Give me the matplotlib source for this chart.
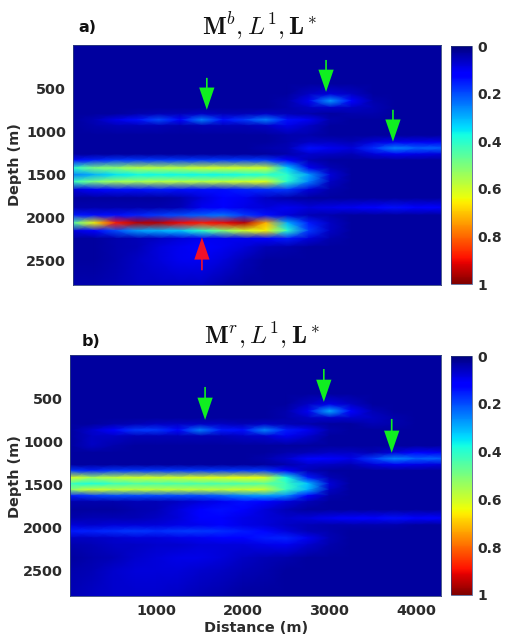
import numpy as np
import matplotlib
matplotlib.use('Agg')
import matplotlib.pyplot as plt

plt.rcParams['mathtext.fontset'] = 'cm'
plt.rcParams['font.family'] = 'DejaVu Sans'

W, H = 507, 639
inkColor = '#2b2b2b'

distance = [0, 250, 500, 750, 1000, 1250, 1500, 1750, 2000, 2250, 2500, 2750, 3000, 3250, 3500, 3750, 4000, 4290]

depthA = [0, 450, 570, 650, 730, 800, 870, 940, 1050, 1130, 1200, 1270, 1340, 1430, 1510, 1590, 1680, 1780, 1890,
          1980, 2070, 2160, 2250, 2350, 2500, 2790]

# amplitude in hundredths, one row per depth
ampA = [
    [3, 3, 3, 3, 3, 3, 3, 3, 3, 3, 3, 3, 3, 3, 3, 3, 3, 3],
    [3, 3, 3, 3, 3, 3, 3, 3, 3, 3, 3, 3, 3, 3, 3, 3, 3, 3],
    [3, 3, 3, 3, 3, 3, 3, 3, 3, 3, 3, 6, 8, 6, 3, 3, 3, 3],
    [3, 3, 3, 3, 3, 3, 3, 3, 3, 3, 4, 10, 28, 12, 4, 3, 3, 3],
    [3, 3, 3, 3, 3, 3, 3, 3, 3, 3, 4, 6, 7, 6, 5, 3, 3, 3],
    [3, 3, 3, 4, 5, 5, 6, 5, 5, 6, 5, 4, 3, 4, 4, 3, 3, 3],
    [3, 5, 9, 14, 20, 12, 25, 14, 18, 25, 14, 10, 4, 3, 3, 3, 3, 3],
    [3, 4, 5, 5, 5, 4, 5, 5, 5, 6, 9, 6, 3, 3, 3, 3, 3, 3],
    [3, 3, 3, 3, 3, 3, 3, 3, 3, 3, 4, 4, 3, 3, 3, 3, 3, 3],
    [3, 3, 3, 3, 3, 3, 3, 3, 3, 3, 4, 6, 6, 5, 8, 10, 10, 10],
    [3, 3, 3, 3, 3, 3, 3, 3, 3, 4, 5, 14, 10, 8, 17, 26, 22, 22],
    [3, 3, 3, 3, 3, 3, 3, 3, 3, 3, 4, 7, 6, 5, 8, 10, 9, 8],
    [14, 16, 18, 18, 18, 18, 18, 18, 18, 18, 12, 5, 3, 3, 3, 3, 3, 3],
    [40, 50, 52, 57, 57, 57, 60, 60, 60, 60, 33, 10, 5, 3, 3, 3, 3, 3],
    [25, 30, 35, 37, 37, 37, 37, 37, 38, 40, 40, 28, 8, 3, 3, 3, 3, 3],
    [42, 50, 55, 55, 57, 57, 57, 58, 60, 62, 40, 25, 6, 3, 3, 3, 3, 3],
    [8, 12, 14, 14, 15, 14, 14, 14, 16, 17, 18, 8, 4, 3, 3, 3, 3, 3],
    [3, 3, 3, 3, 3, 4, 8, 12, 10, 6, 4, 3, 3, 3, 3, 3, 3, 3],
    [4, 4, 4, 4, 4, 5, 10, 12, 9, 8, 10, 8, 9, 10, 12, 14, 12, 12],
    [15, 14, 14, 16, 18, 20, 22, 24, 18, 14, 8, 5, 4, 3, 3, 3, 3, 3],
    [45, 65, 88, 95, 95, 90, 88, 90, 95, 72, 30, 15, 6, 3, 3, 3, 3, 3],
    [8, 12, 20, 28, 30, 32, 40, 50, 60, 65, 40, 18, 6, 3, 3, 3, 3, 3],
    [3, 3, 4, 5, 6, 8, 10, 10, 10, 12, 15, 8, 4, 3, 3, 3, 3, 3],
    [3, 3, 4, 5, 8, 10, 12, 10, 8, 5, 4, 3, 3, 3, 3, 3, 3, 3],
    [3, 3, 4, 6, 8, 10, 10, 8, 5, 3, 3, 3, 3, 3, 3, 3, 3, 3],
    [4, 4, 5, 6, 6, 6, 6, 4, 3, 3, 3, 3, 3, 3, 3, 3, 3, 3],
]

depthB = [0, 450, 570, 650, 730, 800, 870, 940, 1050, 1130, 1200, 1270, 1340, 1420, 1490, 1560, 1630, 1700, 1790,
          1890, 1970, 2040, 2120, 2200, 2350, 2500, 2790]

ampB = [
    [3, 3, 3, 3, 3, 3, 3, 3, 3, 3, 3, 3, 3, 3, 3, 3, 3, 3],
    [3, 3, 3, 3, 3, 3, 3, 3, 3, 3, 3, 3, 3, 3, 3, 3, 3, 3],
    [3, 3, 3, 3, 3, 3, 3, 3, 3, 3, 3, 6, 9, 6, 3, 3, 3, 3],
    [3, 3, 3, 3, 3, 3, 3, 3, 3, 3, 4, 10, 30, 12, 5, 3, 3, 3],
    [3, 3, 3, 3, 3, 3, 3, 3, 3, 3, 4, 6, 7, 7, 6, 4, 3, 3],
    [3, 3, 4, 5, 6, 6, 6, 6, 5, 6, 5, 4, 3, 3, 5, 4, 3, 3],
    [3, 7, 12, 18, 18, 13, 25, 15, 14, 26, 15, 10, 4, 3, 3, 3, 3, 3],
    [3, 6, 6, 5, 5, 5, 5, 5, 6, 7, 10, 7, 3, 3, 3, 3, 3, 3],
    [3, 6, 4, 3, 3, 3, 3, 3, 3, 3, 3, 3, 3, 3, 3, 3, 3, 3],
    [3, 3, 3, 3, 3, 3, 3, 3, 3, 3, 4, 5, 6, 6, 5, 8, 11, 10],
    [3, 3, 3, 3, 3, 3, 3, 3, 3, 4, 7, 13, 12, 9, 18, 26, 22, 22],
    [3, 3, 3, 3, 3, 3, 3, 3, 3, 3, 4, 7, 6, 5, 8, 10, 9, 8],
    [18, 16, 18, 18, 18, 18, 18, 18, 18, 18, 12, 5, 3, 3, 3, 3, 3, 3],
    [62, 55, 58, 60, 60, 60, 62, 62, 64, 62, 38, 15, 5, 3, 3, 3, 3, 3],
    [42, 38, 42, 44, 44, 44, 44, 44, 44, 46, 42, 32, 8, 3, 3, 3, 3, 3],
    [52, 60, 58, 58, 58, 58, 58, 58, 60, 60, 42, 30, 6, 3, 3, 3, 3, 3],
    [15, 18, 20, 20, 20, 20, 20, 22, 26, 28, 26, 12, 4, 3, 3, 3, 3, 3],
    [4, 4, 4, 5, 5, 6, 8, 10, 14, 12, 8, 5, 3, 3, 3, 3, 3, 3],
    [3, 3, 3, 4, 5, 8, 11, 14, 12, 8, 5, 3, 3, 3, 3, 3, 3, 3],
    [4, 5, 5, 5, 6, 8, 11, 12, 9, 8, 7, 8, 10, 11, 12, 14, 12, 12],
    [8, 7, 8, 8, 8, 9, 10, 12, 9, 8, 6, 5, 4, 4, 4, 4, 3, 3],
    [15, 16, 17, 18, 17, 18, 18, 17, 15, 13, 8, 5, 4, 3, 3, 3, 3, 3],
    [6, 6, 7, 8, 8, 9, 10, 11, 12, 15, 16, 10, 5, 3, 3, 3, 3, 3],
    [4, 5, 6, 6, 7, 7, 8, 8, 8, 9, 10, 7, 4, 3, 3, 3, 3, 3],
    [3, 4, 5, 7, 8, 9, 9, 8, 6, 5, 4, 3, 3, 3, 3, 3, 3, 3],
    [4, 5, 7, 8, 8, 8, 7, 6, 5, 4, 3, 3, 3, 3, 3, 3, 3, 3],
    [5, 6, 7, 7, 7, 6, 5, 4, 3, 3, 3, 3, 3, 3, 3, 3, 3, 3],
]

# arrows as (distance, tail depth, tip depth)
greenA = [(1560, 382, 753), (2950, 174, 545), (3730, 753, 1124)]
redA = [(1503, 2619, 2236)]
greenB = [(1562, 370, 751), (2935, 162, 543), (3720, 740, 1133)]
redB = []

depthTicks = [500, 1000, 1500, 2000, 2500]
distanceTicks = [1000, 2000, 3000, 4000]
cbarTicks = [0, 0.2, 0.4, 0.6, 0.8, 1]
cbarLabels = ['0', '0.2', '0.4', '0.6', '0.8', '1']


def pixelAxes(fig, left, top, right, bottom):
    return fig.add_axes([left / W, 1 - bottom / H, (right - left) / W, (bottom - top) / H])


def drawArrows(ax, arrows, color):
    for x, tail, tip in arrows:
        ax.annotate('', xy=(x, tip), xytext=(x, tail),
                    arrowprops=dict(facecolor=color, edgecolor='none', width=1.2, headwidth=11,
                                    headlength=16, shrink=0))


def drawPanel(fig, box, cbarBox, depth, amp, green, red, ylabelY):
    ax = pixelAxes(fig, *box)
    mesh = ax.pcolormesh(distance, depth, np.array(amp) / 100, shading='gouraud', cmap='jet', vmin=0, vmax=1)
    ax.set_xlim(0, 4290)
    ax.set_ylim(2790, 0)
    ax.set_yticks(depthTicks)
    ax.tick_params(length=0, pad=5, labelsize=10.4, labelcolor=inkColor)
    for lab in ax.get_yticklabels() + ax.get_xticklabels():
        lab.set_fontweight('bold')
    for s in ax.spines.values():
        s.set_linewidth(0.6)
        s.set_color('#30407a')
    drawArrows(ax, green, '#10ee20')
    drawArrows(ax, red, '#f0102a')
    fig.text(15 / W, 1 - ylabelY / H, 'Depth (m)', rotation=90, ha='center', va='center',
             fontsize=10.4, fontweight='bold', color=inkColor)

    cax = pixelAxes(fig, *cbarBox)
    cb = fig.colorbar(mesh, cax=cax)
    cb.set_ticks(cbarTicks)
    cb.set_ticklabels(cbarLabels)
    cax.invert_yaxis()
    cax.tick_params(length=0, pad=4, labelsize=10, labelcolor=inkColor)
    for lab in cax.get_yticklabels():
        lab.set_fontweight('bold')
    cb.outline.set_linewidth(0.5)
    cb.outline.set_edgecolor('#30407a')
    return ax


fig = plt.figure(figsize=(W / 100, H / 100), dpi=100)

axA = drawPanel(fig, (73, 45, 441, 285), (451, 46, 472, 284), depthA, ampA, greenA, redA, 165)
axA.set_xticks([])
axB = drawPanel(fig, (70, 355, 441, 596), (451, 356, 472, 595), depthB, ampB, greenB, redB, 477)
axB.set_xticks(distanceTicks)
for lab in axB.get_xticklabels():
    lab.set_fontweight('bold')
axB.tick_params(axis='x', pad=6)

fig.text(260 / W, 1 - 27 / H, r'$\mathbf{M}^b, L^1, \mathbf{L}^*$', ha='center', va='center', fontsize=18, color='#111111')
fig.text(262 / W, 1 - 336 / H, r'$\mathbf{M}^r, L^1, \mathbf{L}^*$', ha='center', va='center', fontsize=18, color='#111111')
fig.text(78 / W, 1 - 27 / H, 'a)', ha='left', va='center', fontsize=11.5, fontweight='bold', color='#111111')
fig.text(82 / W, 1 - 342 / H, 'b)', ha='left', va='center', fontsize=11.5, fontweight='bold', color='#111111')
fig.text(256 / W, 1 - 628 / H, 'Distance (m)', ha='center', va='center', fontsize=10.4, fontweight='bold', color=inkColor)

fig.savefig('out.png', dpi=100)
